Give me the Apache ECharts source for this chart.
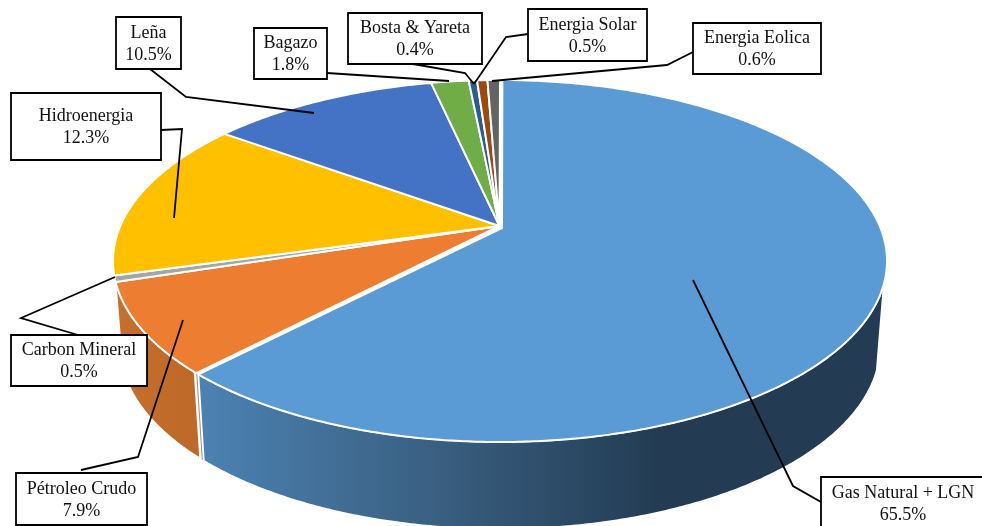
<!DOCTYPE html>
<html><head><meta charset="utf-8">
<style>html,body{margin:0;padding:0;background:#fff}#c{width:982px;height:526px}</style>
<script src="https://cdn.jsdelivr.net/npm/echarts@6/dist/echarts.min.js"></script>
</head><body><div id="c"></div>
<script>
const categories = ['Gas Natural + LGN','Pétroleo Crudo','Carbon Mineral','Hidroenergia','Leña','Bagazo','Bosta & Yareta','Energia Solar','Energia Eolica'];
const values = [65.5,7.9,0.5,12.3,10.5,1.8,0.4,0.5,0.6];
const topColors = ['#5B9BD5','#ED7D31','#A5A5A5','#FFC000','#4472C4','#70AD47','#255E91','#9E480E','#636363'];

// label layout: box [x, y, w, h], leader polyline points
const labelBoxes = [[821,477,175,60],[16,473,131,52],[11,335,136,51],[11,93,150,67],[116,17,65,52],[254,28,73,51],[348,13,134,51],[528,9,119,52],[693,23,128,51]];
const leaders = [
 [[693,280],[793,486],[821,502]],
 [[81,470],[138,457],[183,320]],
 [[78,335],[21,318],[115,277]],
 [[161,130],[182,129],[174,218]],
 [[150,69],[186,97],[314,113]],
 [[327,73],[449,81]],
 [[413,64],[465,73],[474,84]],
 [[528,34],[506,37],[474,84]],
 [[693,52],[667,65],[492,81]]
];

// 3D pie projection
const apex = [499.5,226], gasApex = [502,228];
const rim = {cx:500,cy:261,rx:387,ry:181}, base = {cx:500,cy:346,rx:380,ry:183};
const deg = Math.PI/180, squash = 0.86, wallFrom = 97.6*deg, wallTo = 265*deg;
const gasGapStart = 0.35*deg, gasGapEnd = 0.5*deg, wallGap = 0.45*deg;
const total = values.reduce((a,b)=>a+b,0);
const cum = []; values.reduce((s,v,i)=>(cum[i]=s,s+v),0);
function warp(share){
  const t = share/total*2*Math.PI;
  if (t >= 2*Math.PI-1e-9) return 2*Math.PI;
  let p = Math.atan2(squash*Math.sin(t),Math.cos(t));
  return p<0 ? p+2*Math.PI : p;
}
const pt = (e,p)=>[e.cx+e.rx*Math.sin(p), e.cy-e.ry*Math.cos(p)];
function arc(e,a,b){const n=Math.max(2,Math.ceil((b-a)/0.01)),r=[];for(let i=0;i<=n;i++)r.push(pt(e,a+(b-a)*i/n));return r;}
const wallFills = [
 {type:'linear',x:200,y:0,x2:660,y2:0,global:true,colorStops:[{offset:0,color:'#4C82B3'},{offset:0.5,color:'#3A6082'},{offset:1,color:'#233C53'}]},
 {type:'linear',x:115,y:0,x2:205,y2:0,global:true,colorStops:[{offset:0,color:'#C76F2D'},{offset:1,color:'#BD6828'}]}
];
function renderItem(params,api){
  const i = params.dataIndex, v = api.value(0);
  let a = warp(cum[i]), b = warp(cum[i]+v), children=[];
  if (i===0){a+=gasGapStart; b-=gasGapEnd;}
  const wa = Math.max(i===1?a+wallGap:a,wallFrom), wb = Math.min(b,wallTo);
  if (wb>wa && wallFills[i]) {
    children.push({type:'polygon',z2:1,shape:{points:arc(rim,wa,wb).concat(arc(base,wa,wb).reverse())},
      style:{fill:wallFills[i],stroke:'#fff',lineWidth:1.5,lineJoin:'round'}});
  }
  if (i===1){
    const p=pt(rim,a-0.1*deg), q=pt(base,a-0.1*deg);
    children.push({type:'line',z2:2,shape:{x1:p[0],y1:p[1],x2:q[0],y2:q[1]},style:{stroke:'#A98A76',lineWidth:1}});
  }
  children.push({type:'polygon',z2:10,shape:{points:[i===0?gasApex:apex].concat(arc(rim,a,b))},
    style:{fill:topColors[i],stroke:'#fff',lineWidth:2,lineJoin:'round'}});
  return {type:'group',children};
}
const graphics = [];
categories.forEach((name,i)=>{
  const [x,y,w,h]=labelBoxes[i];
  graphics.push({type:'polyline',z:50,shape:{points:leaders[i]},style:{fill:null,stroke:'#000',lineWidth:1.8}});
  graphics.push({type:'rect',z:60,shape:{x,y,width:w,height:h},style:{fill:'#fff',stroke:'#000',lineWidth:1.8}});
  const cxText = i===0 ? 903 : x+w/2;
  const cyText = i===0 ? 504 : y+h/2+1;
  graphics.push({type:'text',z:70,x:cxText,y:cyText,style:{text:name+'\n'+values[i].toFixed(1)+'%',fill:'#111',
    font:'18px "Liberation Serif"',lineHeight:22,align:'center',verticalAlign:'middle'}});
});
const chart = echarts.init(document.getElementById('c'),null,{renderer:'canvas'});
chart.setOption({animation:false,backgroundColor:'#fff',
  series:[{type:'custom',coordinateSystem:'none',renderItem,silent:true,clip:false,
    data:values.map((v,i)=>({name:categories[i],value:[v]}))}],
  graphic:{elements:graphics}});
</script></body></html>
